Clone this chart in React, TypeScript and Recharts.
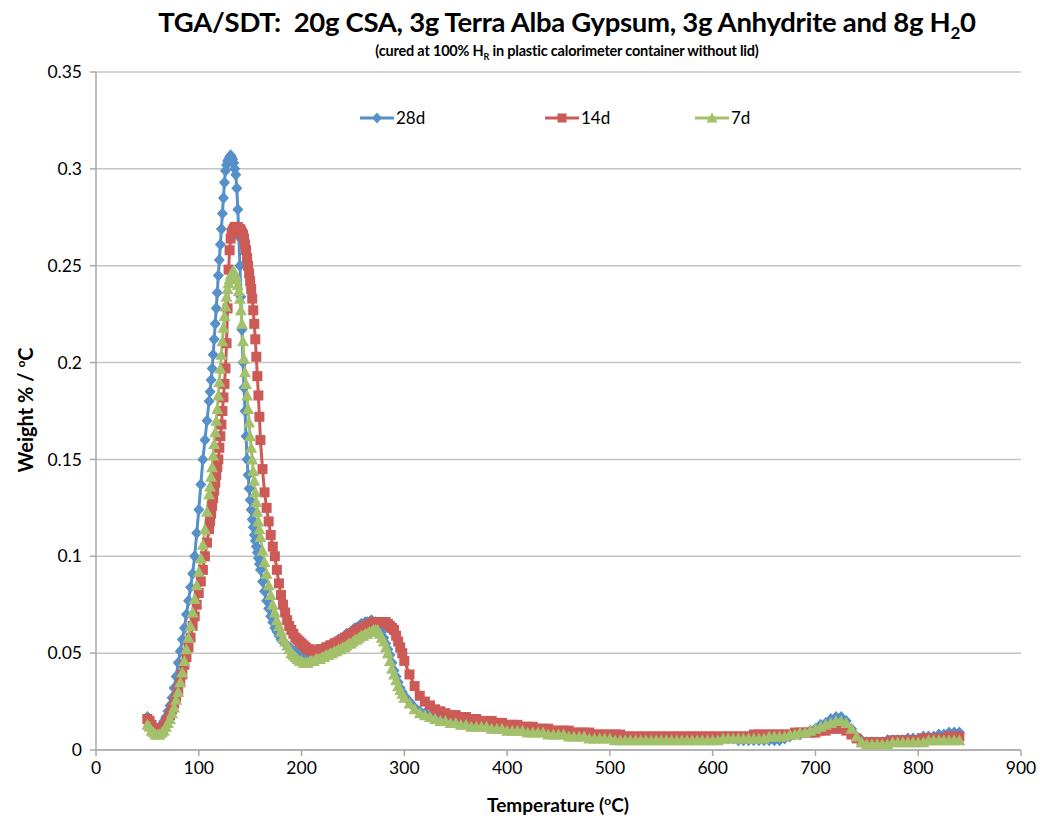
import React from "react";
import { LineChart, Line, XAxis, YAxis, CartesianGrid } from "recharts";

// temperature grid (°C) shared by the three curves
const temps = [
  50, 52, 54, 56, 58, 60, 62, 64, 66, 68, 70, 72, 74, 76, 78, 80, 82, 84, 86, 88, 90, 92, 94, 96, 98, 100, 102, 104, 106, 108,
  110, 111, 112, 113, 114, 115, 116, 117, 118, 119, 120, 121, 122, 123, 124, 125, 126, 127, 128, 129,
  130, 131, 132, 133, 134, 135, 136, 137, 138, 139, 140, 141, 142, 143, 144, 145, 146, 147, 148, 149,
  150, 151, 152, 153, 154, 155, 156, 157, 158, 159,
  160, 162, 164, 166, 168, 170, 172, 174, 176, 178, 180, 182, 184, 186, 188, 190, 192, 194, 196, 198,
  200, 202, 204, 206, 208, 210, 212, 214, 216, 218, 220, 222, 224, 226, 228, 230, 232, 234, 236, 238,
  240, 242, 244, 246, 248, 250, 252, 254, 256, 258, 260, 262, 264, 266, 268, 270, 272, 274, 276, 278,
  280, 282, 284, 286, 288, 290, 292, 294, 296, 298,
  300, 305, 310, 315, 320, 325, 330, 335, 340, 345, 350, 355, 360, 365, 370, 375, 380, 385, 390, 395,
  400, 405, 410, 415, 420, 425, 430, 435, 440, 445, 450, 455, 460, 465, 470, 475, 480, 485, 490, 495,
  500, 505, 510, 515, 520, 525, 530, 535, 540, 545, 550, 555, 560, 565, 570, 575, 580, 585, 590, 595,
  600, 605, 610, 615, 620, 625, 630, 635, 640, 645, 650, 655, 660, 665, 670, 675, 680, 685, 690,
  695, 700, 705, 710, 715, 720, 725, 730, 735, 740, 745, 750,
  755, 760, 765, 770, 775, 780, 785, 790, 795, 800, 805, 810, 815, 820, 825, 830, 835, 840,
];

const d28 = [
  0.017, 0.016, 0.014, 0.012, 0.011, 0.011, 0.012, 0.013, 0.015, 0.017,
  0.020, 0.023, 0.027, 0.032, 0.038, 0.045, 0.051, 0.057, 0.063, 0.070,
  0.077, 0.084, 0.091, 0.100, 0.112, 0.124, 0.137, 0.150, 0.160, 0.170,
  0.180, 0.185, 0.191, 0.197, 0.204, 0.212, 0.220, 0.228, 0.236, 0.245,
  0.253, 0.261, 0.269, 0.277, 0.285, 0.293, 0.299, 0.302, 0.304, 0.305,
  0.306, 0.307, 0.306, 0.305, 0.303, 0.300, 0.297, 0.290, 0.279, 0.265,
  0.250, 0.234, 0.217, 0.200, 0.187, 0.175, 0.162, 0.150, 0.142, 0.135,
  0.129, 0.124, 0.119, 0.115, 0.111, 0.108, 0.105, 0.102, 0.099, 0.096,
  0.093, 0.087, 0.082, 0.077, 0.073, 0.069, 0.066, 0.063, 0.061, 0.059,
  0.057, 0.056, 0.055, 0.054, 0.053, 0.052, 0.051, 0.051, 0.050, 0.050,
  0.049, 0.049, 0.049, 0.049, 0.049, 0.050, 0.050, 0.050, 0.051, 0.051,
  0.052, 0.052, 0.053, 0.053, 0.054, 0.055, 0.055, 0.056, 0.057, 0.057,
  0.058, 0.059, 0.060, 0.060, 0.061, 0.062, 0.063, 0.063, 0.064, 0.065,
  0.065, 0.066, 0.066, 0.066, 0.067, 0.066, 0.066, 0.065, 0.063, 0.061,
  0.058, 0.055, 0.052, 0.049, 0.045, 0.041, 0.038, 0.035, 0.032, 0.030,
  0.028, 0.025, 0.022, 0.020, 0.019, 0.018, 0.017, 0.016, 0.016, 0.015,
  0.015, 0.015, 0.014, 0.014, 0.014, 0.013, 0.013, 0.013, 0.012, 0.012,
  0.012, 0.012, 0.011, 0.011, 0.011, 0.010, 0.010, 0.010, 0.010, 0.009,
  0.009, 0.009, 0.009, 0.008, 0.008, 0.008, 0.008, 0.007, 0.007, 0.007,
  0.007, 0.007, 0.007, 0.006, 0.006, 0.006, 0.006, 0.006, 0.006, 0.006,
  0.006, 0.006, 0.006, 0.006, 0.006, 0.006, 0.006, 0.006, 0.006, 0.006,
  0.006, 0.006, 0.006, 0.006, 0.006, 0.005, 0.005, 0.005, 0.005, 0.005,
  0.005, 0.005, 0.005, 0.005, 0.006, 0.007, 0.008, 0.008, 0.009,
  0.010, 0.011, 0.013, 0.014, 0.016, 0.017, 0.017, 0.015, 0.011, 0.007, 0.005, 0.004,
  0.004, 0.004, 0.004, 0.005, 0.005, 0.005, 0.005, 0.006, 0.006, 0.006,
  0.007, 0.007, 0.007, 0.008, 0.008, 0.009, 0.009, 0.009,
];

const d14 = [
  0.016, 0.015, 0.013, 0.011, 0.010, 0.010, 0.010, 0.011, 0.012, 0.014,
  0.016, 0.018, 0.021, 0.024, 0.027, 0.031, 0.035, 0.039, 0.044, 0.048,
  0.053, 0.058, 0.064, 0.069, 0.075, 0.081, 0.087, 0.093, 0.100, 0.107,
  0.114, 0.118, 0.122, 0.126, 0.130, 0.134, 0.138, 0.142, 0.146, 0.150,
  0.156, 0.162, 0.168, 0.175, 0.182, 0.189, 0.197, 0.210, 0.228, 0.248,
  0.258, 0.264, 0.267, 0.268, 0.269, 0.270, 0.270, 0.270, 0.270, 0.269,
  0.269, 0.268, 0.267, 0.266, 0.264, 0.261, 0.258, 0.254, 0.250, 0.246,
  0.242, 0.238, 0.233, 0.227, 0.220, 0.212, 0.203, 0.193, 0.183, 0.172,
  0.160, 0.145, 0.133, 0.125, 0.118, 0.111, 0.105, 0.100, 0.093, 0.086,
  0.080, 0.075, 0.071, 0.067, 0.064, 0.062, 0.060, 0.058, 0.057, 0.056,
  0.055, 0.054, 0.053, 0.052, 0.052, 0.051, 0.051, 0.051, 0.051, 0.052,
  0.052, 0.052, 0.053, 0.053, 0.054, 0.054, 0.055, 0.055, 0.056, 0.056,
  0.057, 0.058, 0.058, 0.059, 0.060, 0.060, 0.061, 0.062, 0.062, 0.063,
  0.063, 0.064, 0.064, 0.065, 0.065, 0.066, 0.066, 0.066, 0.066, 0.066,
  0.066, 0.066, 0.065, 0.064, 0.063, 0.062, 0.059, 0.056, 0.053, 0.050,
  0.046, 0.039, 0.033, 0.028, 0.025, 0.023, 0.021, 0.020, 0.019, 0.018,
  0.018, 0.017, 0.017, 0.016, 0.016, 0.015, 0.015, 0.015, 0.014, 0.014,
  0.013, 0.013, 0.013, 0.012, 0.012, 0.012, 0.011, 0.011, 0.011, 0.010,
  0.010, 0.010, 0.010, 0.009, 0.009, 0.009, 0.009, 0.008, 0.008, 0.008,
  0.008, 0.008, 0.008, 0.007, 0.007, 0.007, 0.007, 0.007, 0.007, 0.007,
  0.007, 0.007, 0.007, 0.007, 0.007, 0.007, 0.007, 0.007, 0.007, 0.007,
  0.007, 0.007, 0.007, 0.007, 0.007, 0.007, 0.007, 0.007, 0.008, 0.008,
  0.008, 0.008, 0.008, 0.008, 0.008, 0.008, 0.009, 0.009, 0.009,
  0.009, 0.009, 0.010, 0.010, 0.011, 0.011, 0.011, 0.010, 0.008, 0.006, 0.004, 0.004,
  0.004, 0.004, 0.004, 0.004, 0.005, 0.005, 0.005, 0.005, 0.005, 0.005,
  0.006, 0.006, 0.006, 0.006, 0.006, 0.007, 0.007, 0.007,
];

const d7 = [
  0.013, 0.012, 0.010, 0.009, 0.008, 0.008, 0.008, 0.009, 0.010, 0.012,
  0.014, 0.016, 0.019, 0.022, 0.026, 0.030, 0.035, 0.040, 0.046, 0.052,
  0.058, 0.064, 0.071, 0.078, 0.085, 0.092, 0.099, 0.106, 0.114, 0.123,
  0.132, 0.136, 0.141, 0.146, 0.152, 0.158, 0.164, 0.170, 0.176, 0.183,
  0.190, 0.197, 0.204, 0.211, 0.218, 0.224, 0.229, 0.234, 0.238, 0.241,
  0.243, 0.245, 0.246, 0.247, 0.247, 0.246, 0.245, 0.243, 0.240, 0.237,
  0.233, 0.227, 0.220, 0.211, 0.202, 0.195, 0.189, 0.183, 0.176, 0.169,
  0.162, 0.156, 0.150, 0.144, 0.139, 0.133, 0.128, 0.123, 0.118, 0.114,
  0.110, 0.103, 0.097, 0.091, 0.085, 0.080, 0.075, 0.071, 0.067, 0.064,
  0.061, 0.058, 0.056, 0.054, 0.052, 0.050, 0.049, 0.048, 0.047, 0.046,
  0.046, 0.045, 0.045, 0.045, 0.046, 0.046, 0.046, 0.047, 0.047, 0.047,
  0.048, 0.048, 0.049, 0.049, 0.050, 0.050, 0.051, 0.051, 0.052, 0.052,
  0.053, 0.053, 0.054, 0.055, 0.055, 0.056, 0.057, 0.057, 0.058, 0.059,
  0.059, 0.060, 0.060, 0.061, 0.061, 0.062, 0.062, 0.062, 0.060, 0.058,
  0.056, 0.053, 0.050, 0.046, 0.042, 0.039, 0.036, 0.033, 0.031, 0.029,
  0.027, 0.024, 0.021, 0.019, 0.018, 0.017, 0.016, 0.015, 0.015, 0.014,
  0.014, 0.013, 0.013, 0.012, 0.012, 0.012, 0.012, 0.011, 0.011, 0.011,
  0.010, 0.010, 0.010, 0.010, 0.009, 0.009, 0.009, 0.009, 0.008, 0.008,
  0.008, 0.008, 0.007, 0.007, 0.007, 0.007, 0.006, 0.006, 0.006, 0.006,
  0.006, 0.005, 0.005, 0.005, 0.005, 0.005, 0.005, 0.005, 0.005, 0.005,
  0.005, 0.005, 0.005, 0.005, 0.005, 0.005, 0.005, 0.005, 0.005, 0.005,
  0.005, 0.005, 0.006, 0.006, 0.006, 0.006, 0.006, 0.006, 0.006, 0.006,
  0.006, 0.007, 0.007, 0.007, 0.007, 0.008, 0.008, 0.009, 0.009,
  0.010, 0.011, 0.012, 0.013, 0.014, 0.015, 0.015, 0.014, 0.011, 0.007, 0.004, 0.003,
  0.003, 0.003, 0.003, 0.003, 0.004, 0.004, 0.004, 0.004, 0.004, 0.004,
  0.004, 0.005, 0.005, 0.005, 0.005, 0.005, 0.005, 0.005,
];

const xTicks = [0, 100, 200, 300, 400, 500, 600, 700, 800, 900];
const yTicks = [0, 0.05, 0.1, 0.15, 0.2, 0.25, 0.3, 0.35];

const BLUE = "#5590c8";
const RED = "#cc5a56";
const GREEN = "#a3c16b";

const rows = temps.map((t, i) => ({ t, d28: d28[i], d14: d14[i], d7: d7[i] }));

function diamond(p: any) {
  const { cx, cy, index } = p;
  if (cx == null || cy == null) return <g key={`b${index}`} />;
  return (
    <path
      key={`b${index}`}
      d={`M${cx},${cy - 6}L${cx + 5.5},${cy}L${cx},${cy + 6}L${cx - 5.5},${cy}Z`}
      fill={BLUE}
    />
  );
}

function square(p: any) {
  const { cx, cy, index } = p;
  if (cx == null || cy == null) return <g key={`r${index}`} />;
  return <rect key={`r${index}`} x={cx - 5} y={cy - 5} width={10} height={10} fill={RED} />;
}

function triangle(p: any) {
  const { cx, cy, index } = p;
  if (cx == null || cy == null) return <g key={`g${index}`} />;
  return (
    <path
      key={`g${index}`}
      d={`M${cx},${cy - 6}L${cx + 6},${cy + 5}L${cx - 6},${cy + 5}Z`}
      fill={GREEN}
    />
  );
}

const legendItems = [
  { label: "28d", color: BLUE, x: 360, shape: "d" },
  { label: "14d", color: RED, x: 545, shape: "s" },
  { label: "7d", color: GREEN, x: 695, shape: "t" },
];

function ChartLegend() {
  return (
    <div style={{ position: "absolute", left: 0, top: 107, width: 1044, height: 20 }}>
      {legendItems.map((it) => (
        <div
          key={it.label}
          style={{ position: "absolute", left: it.x, top: 0, display: "flex", alignItems: "center" }}
        >
          <svg width={34} height={20}>
            <line x1={0} y1={10} x2={34} y2={10} stroke={it.color} strokeWidth={3} />
            {it.shape === "d" && <path d="M17,4.5L22,10L17,15.5L12,10Z" fill={it.color} />}
            {it.shape === "s" && <rect x={12.5} y={5.5} width={9} height={9} fill={it.color} />}
            {it.shape === "t" && <path d="M17,4.5L22.5,14.5L11.5,14.5Z" fill={it.color} />}
          </svg>
          <span style={{ fontSize: 17, marginLeft: 2, color: "#000" }}>{it.label}</span>
        </div>
      ))}
    </div>
  );
}

export default function App() {
  return (
    <div
      style={{
        position: "absolute",
        left: 0,
        top: 0,
        width: 1044,
        height: 821,
        background: "#fff",
        fontFamily: "Lato, 'Open Sans', sans-serif",
      }}
    >
      <div
        style={{
          position: "absolute",
          left: 67,
          top: 5,
          width: 1000,
          textAlign: "center",
          fontSize: 27.5,
          fontWeight: 700,
          letterSpacing: -0.3,
        }}
      >
        TGA/SDT:&nbsp; 20g CSA, 3g Terra Alba Gypsum, 3g Anhydrite and 8g H
        <sub style={{ fontSize: 17 }}>2</sub>0
      </div>
      <div
        style={{
          position: "absolute",
          left: 67,
          top: 42,
          width: 1000,
          textAlign: "center",
          fontSize: 14.5,
          fontWeight: 700,
          letterSpacing: -0.2,
        }}
      >
        (cured at 100% H<sub style={{ fontSize: 9 }}>R</sub> in plastic calorimeter container without lid)
      </div>

      <LineChart
        width={1044}
        height={821}
        data={rows}
        margin={{ top: 72, right: 23, bottom: 0, left: 0 }}
      >
        <CartesianGrid vertical={false} stroke="#c4c4c4" strokeWidth={1.5} />
        <XAxis
          dataKey="t"
          type="number"
          domain={[0, 900]}
          ticks={xTicks}
          height={71}
          stroke="#a8a8a8"
          strokeWidth={1.5}
          tickSize={6}
          tickMargin={6}
          tick={{ fill: "#000", fontSize: 17.5 }}
        />
        <YAxis
          type="number"
          domain={[0, 0.35]}
          ticks={yTicks}
          width={96}
          stroke="#a8a8a8"
          strokeWidth={1.5}
          tickSize={6}
          tickMargin={8}
          tick={{ fill: "#000", fontSize: 17.5 }}
        />
        <Line
          dataKey="d28"
          name="28d"
          stroke={BLUE}
          strokeWidth={3}
          dot={diamond}
          activeDot={false}
          isAnimationActive={false}
        />
        <Line
          dataKey="d14"
          name="14d"
          stroke={RED}
          strokeWidth={3}
          dot={square}
          activeDot={false}
          isAnimationActive={false}
        />
        <Line
          dataKey="d7"
          name="7d"
          stroke={GREEN}
          strokeWidth={3}
          dot={triangle}
          activeDot={false}
          isAnimationActive={false}
        />
      </LineChart>

      <ChartLegend />

      <div
        style={{
          position: "absolute",
          left: 25,
          top: 410,
          transform: "translate(-50%, -50%) rotate(-90deg)",
          whiteSpace: "nowrap",
          fontSize: 20,
          fontWeight: 700,
        }}
      >
        Weight % / <sup style={{ fontSize: 12 }}>o</sup>C
      </div>
      <div
        style={{
          position: "absolute",
          left: 458,
          top: 793,
          width: 200,
          textAlign: "center",
          fontSize: 19,
          fontWeight: 700,
        }}
      >
        Temperature (<sup style={{ fontSize: 12 }}>o</sup>C)
      </div>
    </div>
  );
}
